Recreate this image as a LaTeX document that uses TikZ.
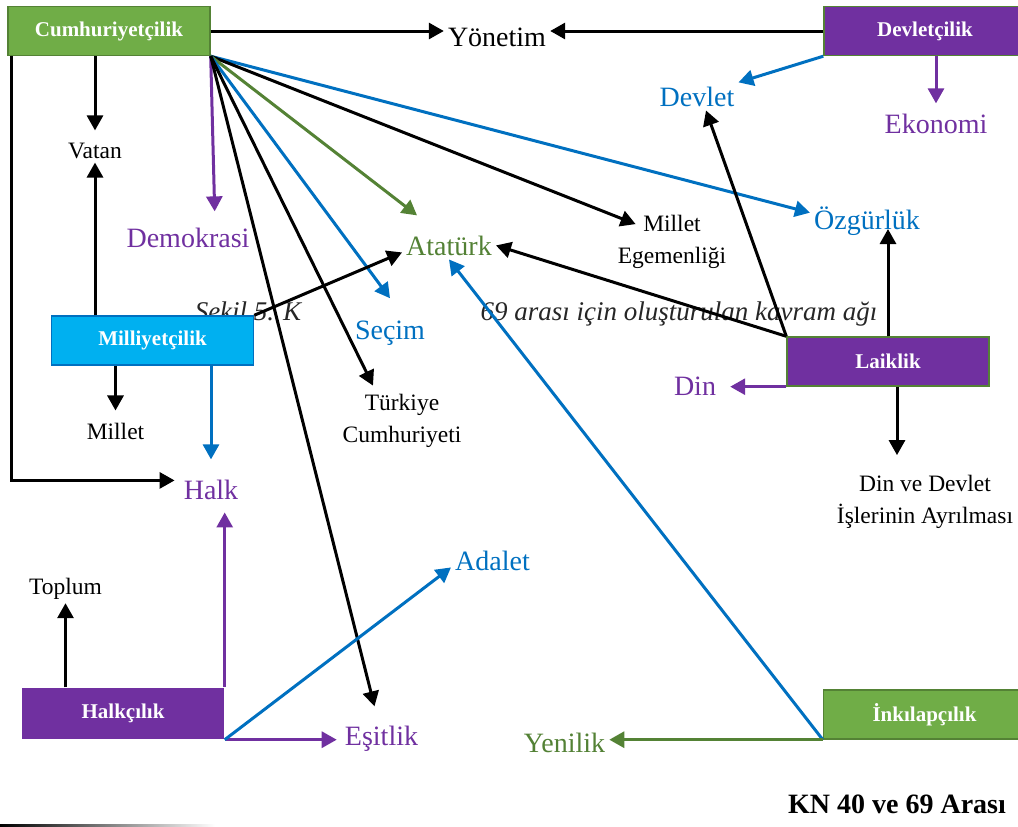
\documentclass[tikz,border=0pt]{standalone}
\usepackage{fontspec}
\setmainfont{Liberation Serif}
\usetikzlibrary{arrows.meta, positioning, calc}
\definecolor{conceptgreen}{RGB}{112,173,71}
\definecolor{framegreen}{RGB}{84,130,53}
\definecolor{conceptpurple}{RGB}{112,48,160}
\definecolor{conceptcyan}{RGB}{0,176,240}
\definecolor{linkblue}{RGB}{0,112,192}
\definecolor{wordgreen}{RGB}{83,129,53}

\tikzset{
  concept/.style={minimum width=202pt, minimum height=49pt, inner sep=0pt, text=white, line width=1.4pt, font=\fontsize{21}{25}\selectfont\bfseries},
  bigword/.style={anchor=base, inner sep=4pt, font=\fontsize{28}{32}\selectfont},
  smallword/.style={anchor=base, inner sep=4pt, align=center, font=\fontsize{23.5}{32}\selectfont},
  caption/.style={anchor=base, inner sep=0pt, text=black!85, font=\fontsize{27}{30}\selectfont\itshape},
  link/.style={line width=3pt, -{Triangle[length=15pt,width=16pt]}},
}

\begin{document}
\begin{tikzpicture}[x=1pt, y=-1pt]
  \useasboundingbox (0,0) rectangle (1018,827);

  % Caption pieces (partly hidden by the boxes)
  \node[caption] (capl) at (248,320) {Şekil 5. K};
  \node[caption] (capr) at (679,320) {69 arası için oluşturulan kavram ağı};

  % Principle boxes
  \node[concept, fill=conceptgreen, draw=framegreen] (cum) at (109,31) {Cumhuriyetçilik};
  \node[concept, fill=conceptpurple, draw=framegreen] (dvc) at (925,31) {Devletçilik};
  \node[concept, fill=conceptcyan, draw=linkblue] (mil) at (152.5,340.5) {Milliyetçilik};
  \node[concept, fill=conceptpurple, draw=framegreen] (lai) at (888,361.5) {Laiklik};
  \node[concept, fill=conceptpurple, minimum height=51pt] (hal) at (123,713.5) {Halkçılık};
  \node[concept, fill=conceptgreen, draw=framegreen] (ink) at (924.5,714.5) {İnkılapçılık};

  % Concepts
  \node[bigword] (yon) at (497,46) {Yönetim};
  \node[bigword, text=linkblue] (devl) at (697,106) {Devlet};
  \node[bigword, text=conceptpurple] (eko) at (936,133) {Ekonomi};
  \node[smallword] (vat) at (95,158) {Vatan};
  \node[bigword, text=conceptpurple] (demo) at (188,247) {Demokrasi};
  \node[bigword, text=wordgreen] (ata) at (449,255) {Atatürk};
  \node[smallword, anchor=center] (meg) at (672,242) {Millet\\Egemenliği};
  \node[bigword, text=linkblue] (ozg) at (867,229) {Özgürlük};
  \node[bigword, text=linkblue] (sec) at (390,339) {Seçim};
  \node[smallword, anchor=center] (tc) at (402,420.5) {Türkiye\\Cumhuriyeti};
  \node[bigword, text=conceptpurple] (din) at (695,395) {Din};
  \node[smallword, anchor=center] (ddi) at (925,502) {Din ve Devlet\\İşlerinin Ayrılması};
  \node[smallword] (mlt) at (115.5,439) {Millet};
  \node[bigword, text=conceptpurple] (halk) at (211,499) {Halk};
  \node[bigword, text=linkblue] (ada) at (492.5,570) {Adalet};
  \node[smallword] (tpl) at (65.5,594) {Toplum};
  \node[bigword, text=conceptpurple] (esi) at (381.5,745) {Eşitlik};
  \node[bigword, text=wordgreen] (yen) at (564.5,752) {Yenilik};
  \node[anchor=base, font=\fontsize{28}{32}\selectfont\bfseries] (kn) at (897,813) {KN 40 ve 69 Arası};

  % Cumhuriyetçilik links
  \draw[link] (cum.east) -- (cum.east -| yon.west);
  \draw[link, shorten >=8pt] (vat.north |- cum.south) -- (vat.north);
  \draw[link, shorten >=5pt] ([xshift=4pt]cum.south west) |- ([yshift=9pt]halk.west);
  \draw[link, conceptpurple, shorten >=12pt] (cum.south east) -- ([xshift=27pt]demo.north);
  \draw[link, linkblue] (cum.south east) -- ([yshift=8pt]ozg.west);
  \draw[link] (cum.south east) -- ([xshift=22pt,yshift=-13pt]meg.north west);
  \draw[link, framegreen] (cum.south east) -- ([xshift=15pt,yshift=16pt]ata.north west);
  \draw[link, linkblue] (cum.south east) -- ([yshift=18pt]sec.north);
  \draw[link] (cum.south east) -- ([xshift=-29pt,yshift=4pt]tc.north);
  \draw[link] (cum.south east) -- ([xshift=-7pt,yshift=15pt]esi.north);

  % Devletçilik links
  \draw[link] (dvc.west) -- (dvc.west -| yon.east);
  \draw[link, linkblue] (dvc.south west) -- (devl.north east);
  \draw[link, conceptpurple, shorten >=6pt] (eko.north |- dvc.south) -- (eko.north);

  % Milliyetçilik links
  \draw[link] (vat.south |- mil.north) -- (vat.south);
  \draw[link, shorten >=8pt] (mlt.north |- mil.south) -- (mlt.north);
  \draw[link, linkblue, shorten >=16pt] (halk.north |- mil.south) -- (halk.north);
  \draw[link] (mil.north east) -- ([yshift=-7pt]ata.west);

  % Laiklik links
  \draw[link] (lai.north west) -- (ata.east);
  \draw[link] (lai.north west) -- ([xshift=9pt]devl.south);
  \draw[link] (lai.north) -- (lai.north |- ozg.base);
  \draw[link, conceptpurple, shorten >=10pt] (lai.south west) -- (lai.south west -| din.east);
  \draw[link, shorten >=16pt] ([xshift=9pt]lai.south) -- ([xshift=9pt]lai.south |- ddi.north);

  % Halkçılık links
  \draw[link] (tpl.south |- hal.north) -- (tpl.south);
  \draw[link, conceptpurple, shorten >=9pt] (hal.north east) -- (hal.north east |- halk.south);
  \draw[link, conceptpurple, shorten >=4pt] (hal.south east) -- (hal.south east -| esi.west);
  \draw[link, linkblue] (hal.south east) -- ([yshift=-7pt]ada.west);

  % İnkılapçılık links
  \draw[link, linkblue] (ink.south west) -- (ata.south);
  \draw[link, framegreen] (ink.south west) -- (ink.south west -| yen.east);

  % Rule at the bottom
  \shade[left color=black, right color=white] (0,824) rectangle (215,827);
\end{tikzpicture}
\end{document}
